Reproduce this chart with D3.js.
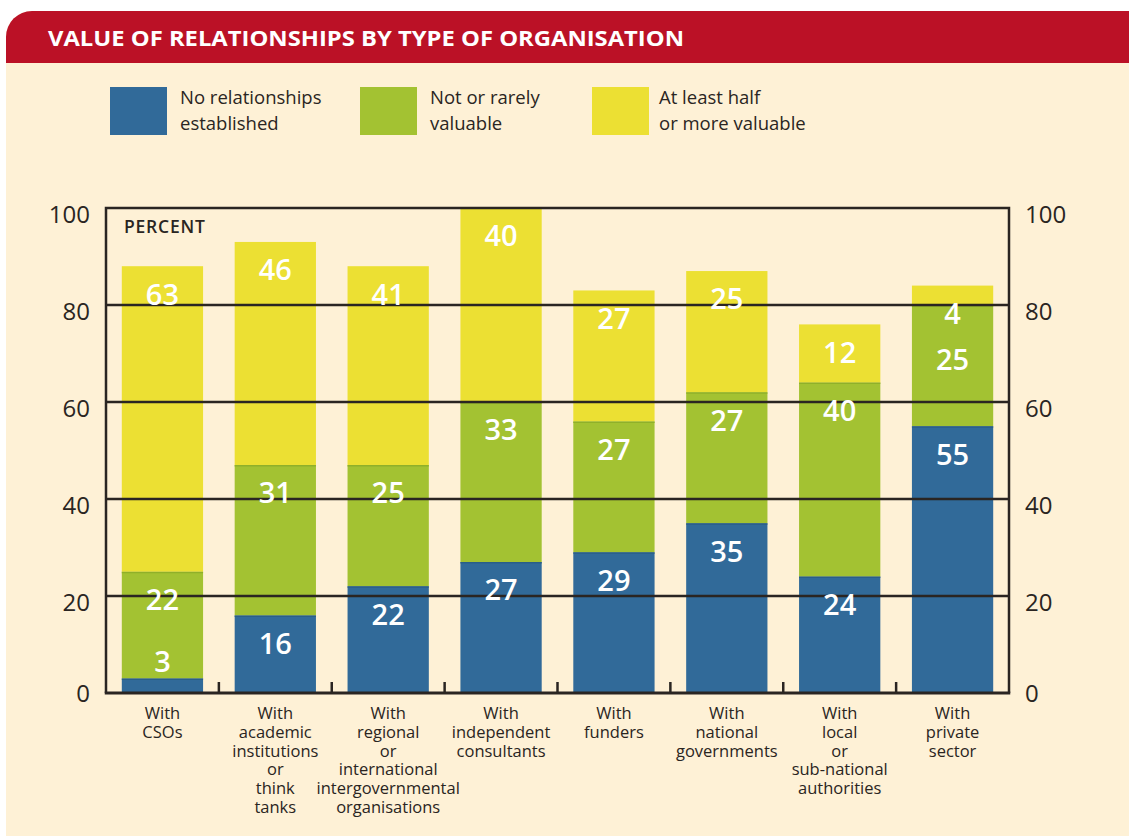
<!DOCTYPE html>
<html>
<head>
<meta charset="utf-8">
<script src="https://cdn.jsdelivr.net/npm/d3@7"></script>
<style>
  html, body { margin: 0; padding: 0; background: #ffffff; }
  svg { display: block; }
  text { font-family: "Open Sans", "DejaVu Sans", sans-serif; }
</style>
</head>
<body>
<svg id="chart" width="1129" height="836"></svg>
<script>
// ---------- data ----------
const title = "VALUE OF RELATIONSHIPS BY TYPE OF ORGANISATION";
const categories = [
  ["With", "CSOs"],
  ["With", "academic", "institutions", "or", "think", "tanks"],
  ["With", "regional", "or", "international", "intergovernmental", "organisations"],
  ["With", "independent", "consultants"],
  ["With", "funders"],
  ["With", "national", "governments"],
  ["With", "local", "or", "sub-national", "authorities"],
  ["With", "private", "sector"]
];
const seriesNames = [
  ["No relationships", "established"],
  ["Not or rarely", "valuable"],
  ["At least half", "or more valuable"]
];
const noRelationships = [3, 16, 22, 27, 29, 35, 24, 55];
const notValuable     = [22, 31, 25, 33, 27, 27, 40, 25];
const atLeastHalf     = [63, 46, 41, 40, 27, 25, 12, 4];
const yTicks = [0, 20, 40, 60, 80, 100];
const axisTitle = "PERCENT";

// ---------- styles ----------
const colors = ["#316a99", "#a3c232", "#ece033"];
const edgeColors = ["#2a5e88", "#8fb02a", "#ece033"];
const red = "#bb1126";
const cream = "#fef1d6";
const ink = "#2a2522";

const svg = d3.select("#chart");

// background panel
svg.append("rect").attr("x", 6).attr("y", 11).attr("width", 1160).attr("height", 880)
  .attr("rx", 26).attr("fill", cream);
// header
const hdrClip = svg.append("clipPath").attr("id", "hdr");
hdrClip.append("rect").attr("x", 0).attr("y", 0).attr("width", 1129).attr("height", 63);
svg.append("rect").attr("x", 6).attr("y", 11).attr("width", 1148).attr("height", 200)
  .attr("rx", 26).attr("fill", red).attr("clip-path", "url(#hdr)");
svg.append("text").attr("x", 48).attr("y", 46)
  .attr("fill", "#ffffff").attr("font-weight", 700).attr("font-size", 22)
  .attr("textLength", 636).attr("lengthAdjust", "spacingAndGlyphs")
  .text(title);

// legend
const legendX = [110, 360, 592];
seriesNames.forEach((lines, i) => {
  svg.append("rect").attr("x", legendX[i]).attr("y", 87).attr("width", 57).attr("height", 48)
    .attr("fill", colors[i]);
  const tx = legendX[i] + (i === 2 ? 67 : 70);
  const t = svg.append("text").attr("fill", ink).attr("font-size", 18.5);
  lines.forEach((l, j) => t.append("tspan").attr("x", tx).attr("y", 104 + j * 26).text(l));
});

// scales
const idx = d3.range(categories.length);
const x = d3.scaleBand().domain(idx).range([106, 1009]).paddingInner(0.28).paddingOuter(0.14);
const y = d3.scaleLinear().domain([0, 100]).range([693, 208]);

const rows = idx.map(i => ({ i, a: noRelationships[i], b: notValuable[i], c: atLeastHalf[i] }));
const stack = d3.stack().keys(["a", "b", "c"])(rows);

// bars
const layers = svg.append("g").selectAll("g").data(stack).join("g")
  .attr("fill", (d, k) => colors[k]);
layers.selectAll("rect").data(d => d).join("rect")
  .attr("x", d => x(d.data.i))
  .attr("width", x.bandwidth())
  .attr("y", d => y(d[1]))
  .attr("height", d => y(d[0]) - y(d[1]));
// subtle darker top edge of segments
svg.append("g").selectAll("g").data(stack.slice(0, 2)).join("g")
  .attr("stroke", (d, k) => edgeColors[k]).attr("stroke-width", 1.5)
  .selectAll("line").data(d => d).join("line")
  .attr("x1", d => x(d.data.i)).attr("x2", d => x(d.data.i) + x.bandwidth())
  .attr("y1", d => y(d[1]) + 0.75).attr("y2", d => y(d[1]) + 0.75);

// gridlines (drawn over bars)
svg.append("g").selectAll("line").data(yTicks.filter(t => t > 0 && t < 100)).join("line")
  .attr("x1", 106).attr("x2", 1009).attr("y1", d => y(d)).attr("y2", d => y(d))
  .attr("stroke", ink).attr("stroke-width", 2.5);

// frame
svg.append("path")
  .attr("d", `M${x.range()[0]},${y(0)} V${y(100)} H${x.range()[1]} V${y(0)}`)
  .attr("fill", "none").attr("stroke", ink).attr("stroke-width", 2.5);
svg.append("line").attr("x1", 104.75).attr("x2", 1010.25).attr("y1", y(0)).attr("y2", y(0))
  .attr("stroke", ink).attr("stroke-width", 3);

// category separator ticks
const step = x.step();
svg.append("g").selectAll("line").data(idx.slice(0, -1)).join("line")
  .attr("x1", i => x(i) + x.bandwidth() + x.paddingInner() * step / 2)
  .attr("x2", i => x(i) + x.bandwidth() + x.paddingInner() * step / 2)
  .attr("y1", y(0) - 11).attr("y2", y(0))
  .attr("stroke", ink).attr("stroke-width", 2.5);

// y axes labels via d3 axes
const yl = d3.axisLeft(y).tickValues(yTicks).tickSize(0).tickPadding(16);
const gl = svg.append("g").attr("transform", `translate(${x.range()[0]},0)`).call(yl);
const yr = d3.axisRight(y).tickValues(yTicks).tickSize(0).tickPadding(16);
const gr = svg.append("g").attr("transform", `translate(${x.range()[1]},0)`).call(yr);
[gl, gr].forEach(g => {
  g.select(".domain").remove();
  g.selectAll("text").attr("font-size", 24).attr("fill", ink)
    .attr("font-family", '"Open Sans", sans-serif')
    .attr("dy", d => d === 0 ? "0.34em" : "0.6em");
});

// PERCENT
svg.append("text").attr("x", 124).attr("y", 233).attr("font-size", 17.5)
  .attr("font-weight", 600).attr("letter-spacing", 0.8).attr("fill", ink).text(axisTitle);

// value labels (placed top-down within each bar, keeping them apart)
const labelG = svg.append("g");
idx.forEach(i => {
  let prev = -Infinity;
  for (let k = stack.length - 1; k >= 0; k--) {
    const d = stack[k][i];
    const v = d[1] - d[0];
    let cy = Math.min(y(d[1]) + 28, y(0) - 31);
    cy = Math.max(cy, prev + 46);
    prev = cy;
    labelG.append("text")
      .attr("x", x(i) + x.bandwidth() / 2)
      .attr("y", cy).attr("dy", "0.36em")
      .attr("text-anchor", "middle").attr("fill", "#ffffff")
      .attr("font-size", 29).attr("font-weight", 600)
      .text(v);
  }
});

// category labels
const catG = svg.append("g");
categories.forEach((lines, i) => {
  const t = catG.append("text").attr("text-anchor", "middle").attr("fill", ink)
    .attr("font-size", 16.5);
  lines.forEach((l, j) => t.append("tspan")
    .attr("x", x(i) + x.bandwidth() / 2).attr("y", 719 + j * 18.8).text(l));
});
</script>
</body>
</html>
